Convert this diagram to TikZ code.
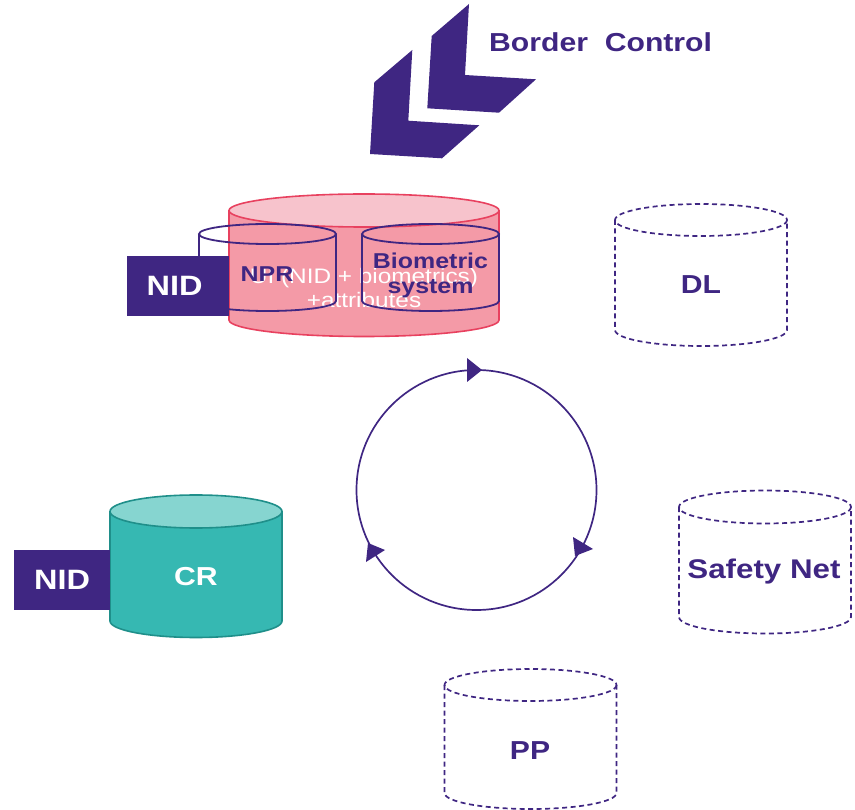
\documentclass[tikz,border=0pt]{standalone}
\usepackage{fontspec}
\setmainfont{Liberation Sans}
\newfontfamily\widefont[FakeStretch=1.16]{Liberation Sans}
\definecolor{violetdark}{HTML}{3F2682}
\definecolor{redline}{HTML}{E8415F}
\definecolor{redbody}{HTML}{F49AA7}
\definecolor{redtop}{HTML}{F7C3CC}
\definecolor{tealline}{HTML}{1F8F8A}
\definecolor{tealbody}{HTML}{36B8B2}
\definecolor{tealtop}{HTML}{86D5D0}
\tikzset{
  solidcyl/.style={line width=1.6pt},
  emptycyl/.style={draw=violetdark, line width=1.8pt},
  dashcyl/.style={draw=violetdark, line width=1.7pt, dash pattern=on 5pt off 3.5pt},
  label/.style={font=\widefont\bfseries\fontsize{26}{28}\selectfont, text=violetdark, align=center, inner sep=0pt},
  smalllabel/.style={label, font=\widefont\bfseries\fontsize{21.5}{25}\selectfont},
  idbox/.style={fill=violetdark, text=white, font=\widefont\bfseries\fontsize{28}{30}\selectfont, inner sep=0pt, minimum height=60pt},
  chevron/.style={fill=violetdark},
  tip/.style={fill=violetdark}
}
% centre x, rim y, side end y, half width, half height, side style, top style
\newcommand{\drum}[7]{
  \path[#6] (#1-#4,#2) -- (#1-#4,#3) arc[start angle=180, end angle=0, x radius=#4, y radius=#5] -- (#1+#4,#2);
  \path[#7] (#1,#2) ellipse[x radius=#4, y radius=#5];
}
\begin{document}
\begin{tikzpicture}[x=1pt, y=-1pt]
  \useasboundingbox (0,0) rectangle (855,810);

  % Chevrons
  \path[chevron] (469,4) -- (431.7,36) -- (427.3,108.3) -- (499,112.7) -- (536,79.3) -- (465,75) -- cycle;
  \path[chevron] (412.3,50) -- (374.3,82.3) -- (370,154) -- (442,158.3) -- (479.3,125.3) -- (408.3,120.7) -- cycle;
  \node[label, anchor=west] (border) at (489,42) {Border\ \ Control};

  % Cylinders
  \drum{364}{210.5}{320}{135}{16.5}{fill=redbody, draw=redline, solidcyl}{fill=redtop, draw=redline, solidcyl}
  \node[font=\widefont\fontsize{21}{24}\selectfont, text=white, align=center, inner sep=0pt] (up) at (364,288) {UI (NID + biometrics)\\+attributes};
  \drum{267.5}{234}{301}{68.5}{10}{emptycyl}{emptycyl}
  \drum{430.5}{234}{301}{68.5}{10}{emptycyl}{emptycyl}
  \node[smalllabel] (npr) at (267,274) {NPR};
  \node[smalllabel] (bio) at (430.5,275) {Biometric\\system};
  \node[idbox, anchor=west, minimum width=102pt] (nid) at (127,286) {\hspace*{-7pt}NID};

  \drum{701}{220}{330}{86}{16}{dashcyl}{dashcyl}
  \node[label] (dl) at (701,285) {DL};
  \drum{765}{507}{617}{86}{16.5}{dashcyl}{dashcyl}
  \node[label, font=\widefont\bfseries\fontsize{27}{29}\selectfont] (safety) at (764,572) {Safety Net};
  \drum{530.5}{685}{793}{86}{16}{dashcyl}{dashcyl}
  \node[label] (pp) at (530,751) {PP};
  \drum{196}{511.5}{621}{86}{16.5}{fill=tealbody, draw=tealline, solidcyl}{fill=tealtop, draw=tealline, solidcyl}
  \node[label, text=white] (cr) at (196,577) {CR};
  \node[idbox, anchor=west, minimum width=96pt] (nidb) at (14,579.5) {NID};

  % Cycle
  \draw[violetdark, line width=1.7pt] (476.5,490) circle[radius=120];
  \path[tip] (467,358) -- (482,370) -- (467,382) -- cycle;
  \path[tip] (573,537) -- (593,549) -- (575,556) -- cycle;
  \path[tip] (368,543) -- (385,550) -- (366,562) -- cycle;

\end{tikzpicture}
\end{document}
